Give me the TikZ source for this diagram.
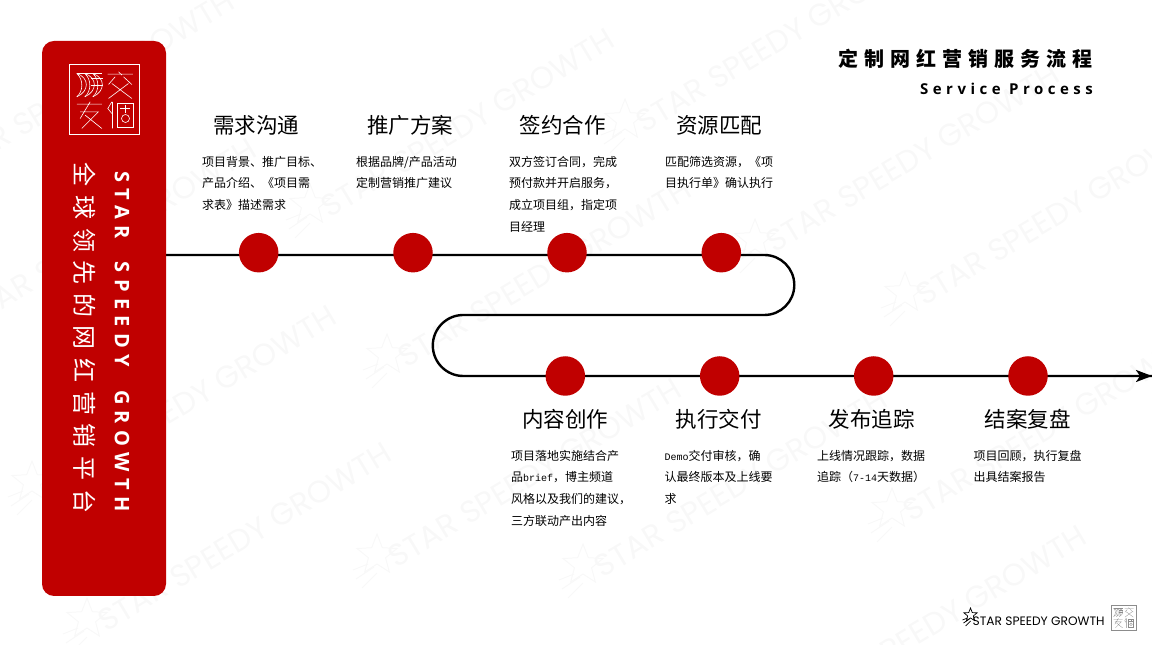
\documentclass[tikz,border=0pt]{standalone}
\usepackage{fontspec}
\setmainfont{Noto Sans CJK SC}
\newfontfamily\latinbold{Open Sans}[BoldFont={Open Sans Bold}]
\newfontfamily\logofont{Poppins}
\newfontfamily\monofont{Liberation Mono}
\usetikzlibrary{arrows.meta}
\usetikzlibrary{backgrounds}
\definecolor{brandred}{HTML}{C00000}
\definecolor{wmgray}{HTML}{F8F8F8}
\newcommand{\mono}[1]{{\monofont\fontsize{10}{10}\selectfont #1}}
\tikzset{
    x=1pt,y=1pt,
    flowline/.style={line width=2.4pt,black},
    stepdot/.style={circle,fill=brandred,minimum size=39.5pt,inner sep=0pt},
    headtext/.style={font=\fontsize{21.5}{24}\selectfont,inner sep=0pt},
    bodytext/.style={font=\fontsize{12}{21.6}\selectfont,align=left,anchor=north west,inner sep=0pt},
    starmark/.pic={
        \draw[pic actions] plot[samples at={0,...,9},variable=\k] ({90+36*\k}:{ifthenelse(mod(\k,2)==0,7,3)}) -- cycle;
        \draw[pic actions] (-3,-3) -- (-8,-5);
        \draw[pic actions] (-1,-4) -- (-7,-8);
        \draw[pic actions] (0,-6) -- (-5,-11);
    },
    logomark/.pic={
        \begin{scope}[x=1pt,y=-1pt]
            \draw[pic actions] (0,0) rectangle (210,210);
            \draw[pic actions] (147,22) -- (157,32) (114,29) -- (190,29) (137,37) -- (117,60) (162,37) -- (187,60);
            \draw[pic actions] (127,57) -- (187,102) (177,57) -- (117,102);
            \draw[pic actions] (22,119) -- (97,119) (62,112) -- (32,162) (32,142) -- (87,142) -- (37,192) (47,152) -- (97,192);
            \draw[pic actions] (127,112) -- (115,132) -- (127,147) (129,112) -- (129,192);
            \draw[pic actions] (144,115) rectangle (190,189) (152,132) -- (182,132) (167,122) -- (167,147);
            \draw[pic actions] (168,162) circle[radius=12];
            \draw[pic actions] (22,27) -- (97,27) (65,42) -- (100,42) (65,62) -- (100,62);
            \foreach \s in {0,24,48} {
                \draw[pic actions] (22+\s,27) .. controls (60+\s,40) and (60+\s,80) .. (22+\s,97);
                \draw[pic actions] (22+\s,27) .. controls (42+\s,45) and (42+\s,80) .. (22+\s,97);
            }
        \end{scope}
    }
}
\begin{document}
\begin{tikzpicture}
    \useasboundingbox (0,0) rectangle (1152,645);
    \clip (0,0) rectangle (1152,645);

    \node[fill=brandred,rounded corners=12pt,minimum width=124pt,minimum height=555pt,inner sep=0pt] (panel) at (104,326.5) {};
    \pic[draw=white,line width=0.6pt,scale=1/3] (logomain) at (69.5,580.5) {logomark};
    \node[rotate=-90,white,inner sep=0pt,font=\fontsize{24}{24}\selectfont\addfontfeature{LetterSpace=36}] (slogan) at (85,307) {全球领先的网红营销平台};
    \node[rotate=-90,white,inner sep=0pt,font=\latinbold\bfseries\fontsize{20}{20}\selectfont\addfontfeature{LetterSpace=32}] (brand) at (122,303.5) {STAR\ \ SPEEDY\ \ GROWTH};

    \node[anchor=east,inner sep=0pt,font=\bfseries\fontsize{20}{20}\selectfont\addfontfeature{LetterSpace=30}] (title) at (1093,586) {定制网红营销服务流程};
    \node[anchor=east,inner sep=0pt,font=\latinbold\bfseries\fontsize{15}{15}\selectfont\addfontfeature{LetterSpace=30}] (subtitle) at (1093,556) {Service Process};

    \foreach \i/\x/\y in {1/258.7/392.3,2/413/392.3,3/567/392.3,4/721.3/392.3,5/565.3/269,6/719.7/269,7/873.7/269,8/1028/269} {
        \node[stepdot] (dot\i) at (\x,\y) {};
    }
    \coordinate (lineend) at (1152,269);

    \begin{scope}[on background layer]
        \foreach \i/\x/\y in {1/310/205,2/625/120,3/755/240,4/905/293,5/387/355,6/377/555,7/583/565,8/892/509,9/782/702,10/87/619,11/-48/315,12/-70/167,13/32/482} {
            \begin{scope}[shift={(\x,645-\y)},rotate=31]
                \pic[draw=wmgray,line width=1pt,scale=3] (wmstar\i) at (0,0) {starmark};
                \node[anchor=west,transform shape,wmgray,inner sep=0pt,font=\logofont\fontsize{31}{31}\selectfont] (wmtext\i) at (10,-11) {STAR SPEEDY GROWTH};
            \end{scope}
        }
        \draw[flowline] ([yshift=-2.3pt]dot1 -| panel.east) -- ([yshift=-2.3pt]dot4.center) -- ++(43pt,0)
            arc[start angle=90,end angle=-90,radius=30pt] -- ++(-301pt,0)
            arc[start angle=90,end angle=270,radius=30.5pt] -- (dot5.center) -- (dot8.center)
            -- (lineend);
    \end{scope}
    \draw[flowline,-{Stealth[length=16pt,width=12pt,inset=4pt]}] (dot8.east) -- (lineend);

    \node[headtext] (head1) at (256,520) {需求沟通};
    \node[headtext] (head2) at (410,520) {推广方案};
    \node[headtext] (head3) at (562.5,520) {签约合作};
    \node[headtext] (head4) at (719,520) {资源匹配};
    \node[headtext] (head5) at (565,226) {内容创作};
    \node[headtext] (head6) at (718.7,226) {执行交付};
    \node[headtext] (head7) at (871.5,226) {发布追踪};
    \node[headtext] (head8) at (1027.5,226) {结案复盘};

    \node[bodytext] (desc1) at (202,489) {项目背景、推广目标、\\产品介绍、《项目需\\求表》描述需求};
    \node[bodytext] (desc2) at (356,489) {根据品牌/产品活动\\定制营销推广建议};
    \node[bodytext] (desc3) at (509,489) {双方签订合同，完成\\预付款并开启服务，\\成立项目组，指定项\\目经理};
    \node[bodytext] (desc4) at (665,489) {匹配筛选资源，《项\\目执行单》确认执行};
    \node[bodytext] (desc5) at (511,195) {项目落地实施结合产\\品\mono{brief}，博主频道\\风格以及我们的建议，\\三方联动产出内容};
    \node[bodytext] (desc6) at (664.5,195) {\mono{Demo}交付审核，确\\认最终版本及上线要\\求};
    \node[bodytext] (desc7) at (817,195) {上线情况跟踪，数据\\追踪（\mono{7-14}天数据）};
    \node[bodytext] (desc8) at (973.5,195) {项目回顾，执行复盘\\出具结案报告};

    \pic[draw=black,line width=0.7pt] (footstar) at (970.5,30) {starmark};
    \node[anchor=west,inner sep=0pt,font=\logofont\fontsize{12.2}{12}\selectfont] (footbrand) at (972.5,23.5) {STAR SPEEDY GROWTH};
    \pic[draw=black!45,line width=0.3pt,scale=0.119] (logofoot) at (1111,40) {logomark};
\end{tikzpicture}
\end{document}
